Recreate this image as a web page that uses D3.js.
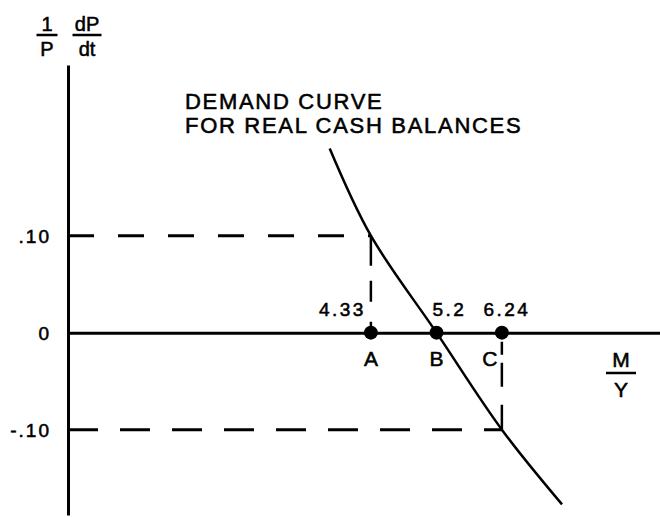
<!DOCTYPE html>
<html>
<head>
<meta charset="utf-8">
<script src="https://cdn.jsdelivr.net/npm/d3@7"></script>
<style>
  html, body { margin: 0; padding: 0; background: #fff; }
  svg { display: block; }
  text { font-family: "Liberation Sans", Arial, Helvetica, sans-serif; fill: #000; stroke: #000; stroke-width: 0.55px; }
</style>
</head>
<body>
<svg id="chart" width="660" height="517"></svg>
<script>
// ---- data ----
const pointLabels = ["A", "B", "C"];
const pointValues = [4.33, 5.2, 6.24];              // M/Y values marked on the axis
const valueLabels = ["4.33", "5.2", "6.24"];
const yTicks = [0.10, 0, -0.10];                     // (1/P)(dP/dt)
const yTickLabels = [".10", "0", "-.10"];
const demandMY = [3.86, 4.33, 5.2, 6.24, 7.38];      // demand curve, M/Y
const demandRate = [0.19, 0.10, 0, -0.10, -0.177];   // demand curve, inflation rate
const guideRates = [0.10, -0.10];                    // dashed guides
const guideMY = [4.33, 6.24];
const titleLines = ["DEMAND CURVE", "FOR REAL CASH BALANCES"];

// ---- layout ----
const svg = d3.select("#chart");

const x = d3.scaleLog().domain([1.86, 9.7]).range([68, 660]);
const y = d3.scaleLinear().domain([-0.188, 0.276]).range([515, 65]);
const x0 = x.range()[0];

// y axis
const yAxis = d3.axisLeft(y)
  .tickValues(yTicks)
  .tickFormat((d, i) => yTickLabels[i])
  .tickSize(0)
  .tickPadding(17);
const gy = svg.append("g").attr("transform", `translate(${x0},0)`).call(yAxis);
gy.select(".domain").attr("stroke", "#000").attr("stroke-width", 3);
gy.selectAll(".tick text")
  .attr("font-size", 19)
  .attr("letter-spacing", 2)
  .attr("font-family", "Liberation Sans, Arial, sans-serif")
  .attr("dy", "0.36em");

// x axis (line at zero rate)
const xAxis = d3.axisBottom(x).tickValues([]).tickSizeOuter(0);
const gx = svg.append("g").attr("transform", `translate(0,${y(0)})`).call(xAxis);
gx.select(".domain").attr("stroke", "#000").attr("stroke-width", 3);

// dashed guides
const hDash = ["26,24", "30,22"];
const vDash = ["30,15,21,20", "25,18,24,8,13,6"];
guideRates.forEach((r, i) => {
  const m = guideMY[i];
  svg.append("line")
    .attr("x1", x0).attr("y1", y(r)).attr("x2", x(m)).attr("y2", y(r))
    .attr("stroke", "#000").attr("stroke-width", 3)
    .attr("stroke-dasharray", hDash[i]);
  svg.append("line")
    .attr("x1", x(m)).attr("y1", y(r)).attr("x2", x(m)).attr("y2", y(0))
    .attr("stroke", "#000").attr("stroke-width", 2.5)
    .attr("stroke-dasharray", vDash[i]);
});

// demand curve
const demand = demandMY.map((m, i) => [m, demandRate[i]]);
const line = d3.line().x(d => x(d[0])).y(d => y(d[1])).curve(d3.curveCatmullRom.alpha(0.5));
svg.append("path")
  .attr("d", line(demand))
  .attr("fill", "none")
  .attr("stroke", "#000")
  .attr("stroke-width", 2.5);

// points on axis
svg.selectAll("circle.pt")
  .data(pointValues)
  .join("circle")
  .attr("class", "pt")
  .attr("cx", d => x(d))
  .attr("cy", y(0))
  .attr("r", 7)
  .attr("fill", "#000");

// point letters below axis
const letterDx = [0, 0, -12];
svg.selectAll("text.letter")
  .data(pointLabels)
  .join("text")
  .attr("class", "letter")
  .attr("x", (d, i) => x(pointValues[i]) + letterDx[i])
  .attr("y", y(0) + 33)
  .attr("text-anchor", "middle")
  .attr("font-size", 21)
  .text(d => d);

// value labels above axis
const valueAnchor = ["end", "start", "middle"];
const valueDx = [-5, -4, 5];
svg.selectAll("text.val")
  .data(valueLabels)
  .join("text")
  .attr("class", "val")
  .attr("x", (d, i) => x(pointValues[i]) + valueDx[i])
  .attr("y", y(0) - 17)
  .attr("text-anchor", (d, i) => valueAnchor[i])
  .attr("font-size", 19)
  .attr("letter-spacing", 2.5)
  .text(d => d);

// curve title
svg.selectAll("text.title")
  .data(titleLines)
  .join("text")
  .attr("class", "title")
  .attr("x", 185)
  .attr("y", (d, i) => 109 + i * 24)
  .attr("font-size", 22)
  .attr("letter-spacing", 1.7)
  .text(d => d);

// fraction labels
function fraction(cx, top, bottom, barW) {
  const g = svg.append("g");
  g.append("text").attr("x", cx).attr("y", 31).attr("text-anchor", "middle")
    .attr("font-size", 20).text(top);
  g.append("line").attr("x1", cx - barW / 2).attr("x2", cx + barW / 2)
    .attr("y1", 35).attr("y2", 35).attr("stroke", "#000").attr("stroke-width", 2.5);
  g.append("text").attr("x", cx).attr("y", 56).attr("text-anchor", "middle")
    .attr("font-size", 20).text(bottom);
}
fraction(47, "1", "P", 21);
fraction(87, "dP", "dt", 29);

// M / Y label
const mx = 621;
svg.append("text").attr("x", mx).attr("y", 367).attr("text-anchor", "middle")
  .attr("font-size", 21).text("M");
svg.append("line").attr("x1", mx - 15).attr("x2", mx + 15)
  .attr("y1", 373).attr("y2", 373).attr("stroke", "#000").attr("stroke-width", 2.5);
svg.append("text").attr("x", mx).attr("y", 397).attr("text-anchor", "middle")
  .attr("font-size", 21).text("Y");
</script>
</body>
</html>
